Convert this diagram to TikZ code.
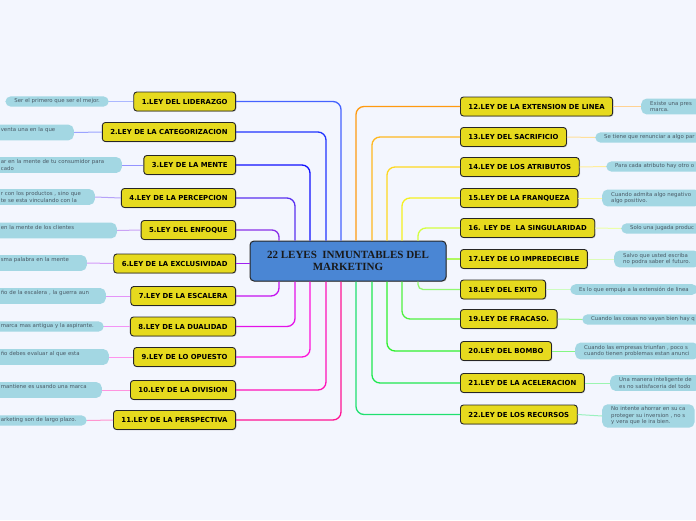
\documentclass[tikz,border=0pt]{standalone}
\usepackage{fontspec}
\setmainfont{DejaVu Sans}
\newfontfamily\titlefont{Liberation Serif}
\usepackage{tikz}
\usetikzlibrary{shadows}

\definecolor{fondo}{HTML}{F3F6FE}
\definecolor{leyfill}{HTML}{E6DA1E}
\definecolor{centrofill}{HTML}{4A86D4}
\definecolor{hojafill}{HTML}{A3D7E3}
\definecolor{hojatext}{HTML}{4A5A66}
% branch colours, left side
\definecolor{b1}{HTML}{4462FF}
\definecolor{b2}{HTML}{2034FF}
\definecolor{b3}{HTML}{1010FF}
\definecolor{b4}{HTML}{5A30F0}
\definecolor{b5}{HTML}{8A30E8}
\definecolor{b6}{HTML}{A020F0}
\definecolor{b7}{HTML}{C412F0}
\definecolor{b8}{HTML}{E412E8}
\definecolor{b9}{HTML}{FF12D8}
\definecolor{b10}{HTML}{FF12B8}
\definecolor{b11}{HTML}{FF1494}
% branch colours, right side
\definecolor{b12}{HTML}{FF9A10}
\definecolor{b13}{HTML}{FFB820}
\definecolor{b14}{HTML}{FFD820}
\definecolor{b15}{HTML}{F4F020}
\definecolor{b16}{HTML}{D4FF40}
\definecolor{b17}{HTML}{B0F860}
\definecolor{b18}{HTML}{90F870}
\definecolor{b19}{HTML}{50F040}
\definecolor{b20}{HTML}{30F030}
\definecolor{b21}{HTML}{20E850}
\definecolor{b22}{HTML}{20E070}

\begin{document}
\begin{tikzpicture}[x=1pt,y=-1pt]
% ---- styles ----
\tikzstyle{ley}=[draw=black!85,line width=0.9pt,fill=leyfill,rounded corners=3pt,
  font=\fontsize{6.9}{8}\selectfont\bfseries,minimum height=19pt,inner xsep=8pt,
  drop shadow={shadow xshift=0.8pt,shadow yshift=-0.8pt,opacity=0.35}]
\tikzstyle{centro}=[draw=black!85,line width=1pt,fill=centrofill,rounded corners=4pt,
  align=center,font=\titlefont\fontsize{11}{11.5}\selectfont\bfseries,text=black!90,
  minimum width=196pt,minimum height=40pt,
  drop shadow={shadow xshift=0.8pt,shadow yshift=-0.8pt,opacity=0.35}]
\tikzstyle{hoja}=[fill=hojafill,rounded corners=5.5pt,align=left,text=hojatext,
  font=\fontsize{5.4}{6.5}\selectfont,inner xsep=9pt,inner ysep=2.6pt]
\tikzstyle{rama}=[line width=1.3pt,rounded corners=8pt]
\tikzstyle{enlace}=[line width=1pt]

% ---- canvas ----
\useasboundingbox (0,0) rectangle (696,520);
\clip (0,0) rectangle (696,520);
\fill[fondo] (0,0) rectangle (696,520);

% ---- central topic ----
\node[centro] (c) at (348,261) {22 LEYES\ \ INMUNTABLES DEL\\MARKETING};

% ---- left laws ----
\node[ley,anchor=east] (n1) at (236,101.5) {1.LEY DEL LIDERAZGO};
\node[ley,anchor=east] (n2) at (236,132) {2.LEY DE LA CATEGORIZACION};
\node[ley,anchor=east] (n3) at (236,165) {3.LEY DE LA MENTE};
\node[ley,anchor=east] (n4) at (236,198) {4.LEY DE LA PERCEPCION};
\node[ley,anchor=east] (n5) at (236,230) {5.LEY DEL ENFOQUE};
\node[ley,anchor=east] (n6) at (236,263.5) {6.LEY DE LA EXCLUSIVIDAD};
\node[ley,anchor=east] (n7) at (236,296) {7.LEY DE LA ESCALERA};
\node[ley,anchor=east] (n8) at (236,326.5) {8.LEY DE LA DUALIDAD};
\node[ley,anchor=east] (n9) at (236,357) {9.LEY DE LO OPUESTO};
\node[ley,anchor=east] (n10) at (236,390) {10.LEY DE LA DIVISION};
\node[ley,anchor=east] (n11) at (236,420) {11.LEY DE LA PERSPECTIVA};

% ---- right laws ----
\node[ley,anchor=west] (n12) at (460,106.5) {12.LEY DE LA EXTENSION DE LINEA};
\node[ley,anchor=west] (n13) at (460,137) {13.LEY DEL SACRIFICIO};
\node[ley,anchor=west] (n14) at (460,167) {14.LEY DE LOS ATRIBUTOS};
\node[ley,anchor=west] (n15) at (460,198) {15.LEY DE LA FRANQUEZA};
\node[ley,anchor=west] (n16) at (460,228) {16. LEY DE\ \ LA SINGULARIDAD};
\node[ley,anchor=west] (n17) at (460,259) {17.LEY DE LO IMPREDECIBLE};
\node[ley,anchor=west] (n18) at (460,289.5) {18.LEY DEL EXITO};
\node[ley,anchor=west] (n19) at (460,319) {19.LEY DE FRACASO.};
\node[ley,anchor=west] (n20) at (460,351) {20.LEY DEL BOMBO};
\node[ley,anchor=west] (n21) at (460,383) {21.LEY DE LA ACELERACION};
\node[ley,anchor=west] (n22) at (460,414.5) {22.LEY DE LOS RECURSOS};

% ---- left notes (cut by the left edge) ----
\node[hoja,anchor=east] (l1) at (109,101.5) {Ser el primero que ser el mejor.};
\node[hoja,anchor=east,text width=64pt] (l2) at (74,132.5) {venta una en la que\\\mbox{}};
\node[hoja,anchor=east,text width=112pt] (l3) at (122,165) {ar en la mente de tu consumidor para\\cado};
\node[hoja,anchor=east,text width=85pt] (l4) at (95,197) {r con los productos , sino que\\te se esta vinculando con la};
\node[hoja,anchor=east,text width=107pt] (l5) at (117,230.5) {en la mente de los clientes\\\mbox{}};
\node[hoja,anchor=east,text width=77pt] (l6) at (87,263) {sma palabra en la mente\\\mbox{}};
\node[hoja,anchor=east,text width=96pt] (l7) at (106,296) {ño de la escalera , la guerra aun\\\mbox{}};
\node[hoja,anchor=east,text width=94pt] (l8) at (104,326.5) {marca mas antigua y la aspirante.};
\node[hoja,anchor=east,text width=99pt] (l9) at (109,357) {ño debes evaluar al que esta\\\mbox{}};
\node[hoja,anchor=east,text width=92pt] (l10) at (102,390) {mantiene es usando una marca\\\mbox{}};
\node[hoja,anchor=east,text width=77pt] (l11) at (87,420.5) {arketing son de largo plazo.};

% ---- right notes (cut by the right edge) ----
\node[hoja,anchor=west] (l12) at (641,106.5) {Existe una pres\\marca.};
\node[hoja,anchor=west] (l13) at (595,137.5) {Se tiene que renunciar a algo par};
\node[hoja,anchor=west] (l14) at (606,166.5) {Para cada atributo hay otro o};
\node[hoja,anchor=west] (l15) at (602,198) {Cuando admita algo negativo\\algo positivo.};
\node[hoja,anchor=west] (l16) at (621,228.5) {Solo una jugada produc};
\node[hoja,anchor=west] (l17) at (614,259) {Salvo que usted escriba\\no podra saber el futuro.};
\node[hoja,anchor=west] (l18) at (570,289.5) {Es lo que empuja a la extensión de linea};
\node[hoja,anchor=west] (l19) at (582,319.5) {Cuando las cosas no vayan bien hay q};
\node[hoja,anchor=west] (l20) at (575,351) {Cuando las empresas triunfan , poco s\\cuando tienen problemas estan anunci};
\node[hoja,anchor=west] (l21) at (610,383) {Una manera inteligente de\\es no satisfaceria del todo};
\node[hoja,anchor=west] (l22) at (602,416) {No intente ahorrar en su ca\\proteger su inversion , no s\\y vera que le ira bien.};

% ---- branches, left ----
\draw[rama,b1] ([xshift=-7pt]c.north) |- (n1.east);
\draw[rama,b2] ([xshift=-22pt]c.north) |- (n2.east);
\draw[rama,b3] ([xshift=-38pt]c.north) |- (n3.east);
\draw[rama,b4] ([xshift=-53pt]c.north) |- (n4.east);
\draw[rama,b5,rounded corners=7pt] ([xshift=-69pt]c.north) |- (n5.east);
\draw[rama,b6] (c.west |- n6.east) -- (n6.east);
\draw[rama,b7] ([xshift=-69pt]c.south) |- (n7.east);
\draw[rama,b8] ([xshift=-53pt]c.south) |- (n8.east);
\draw[rama,b9] ([xshift=-38pt]c.south) |- (n9.east);
\draw[rama,b10] ([xshift=-22pt]c.south) |- (n10.east);
\draw[rama,b11] ([xshift=-7pt]c.south) |- (n11.east);

% ---- branches, right ----
\draw[rama,b12] ([xshift=8pt]c.north) |- (n12.west);
\draw[rama,b13] ([xshift=24pt]c.north) |- (n13.west);
\draw[rama,b14] ([xshift=39pt]c.north) |- (n14.west);
\draw[rama,b15] ([xshift=54pt]c.north) |- (n15.west);
\draw[rama,b16] ([xshift=70pt]c.north) |- (n16.west);
\draw[rama,b17] (c.east |- n17.west) -- (n17.west);
\draw[rama,b18,rounded corners=5pt] ([xshift=70pt]c.south) |- (n18.west);
\draw[rama,b19] ([xshift=54pt]c.south) |- (n19.west);
\draw[rama,b20] ([xshift=39pt]c.south) |- (n20.west);
\draw[rama,b21] ([xshift=24pt]c.south) |- (n21.west);
\draw[rama,b22] ([xshift=8pt]c.south) |- (n22.west);

% ---- note links ----
\draw[enlace,b1!45] (l1.east) -- (n1.west);
\draw[enlace,b2!45] (l2.east) -- (n2.west);
\draw[enlace,b3!45] (l3.east) -- (n3.west);
\draw[enlace,b4!45] (l4.east) -- (n4.west);
\draw[enlace,b5!45] (l5.east) -- (n5.west);
\draw[enlace,b6!45] (l6.east) -- (n6.west);
\draw[enlace,b7!45] (l7.east) -- (n7.west);
\draw[enlace,b8!45] (l8.east) -- (n8.west);
\draw[enlace,b9!45] (l9.east) -- (n9.west);
\draw[enlace,b10!45] (l10.east) -- (n10.west);
\draw[enlace,b11!45] (l11.east) -- (n11.west);
\draw[enlace,b12!45] (n12.east) -- (l12.west);
\draw[enlace,b13!45] (n13.east) -- (l13.west);
\draw[enlace,b14!45] (n14.east) -- (l14.west);
\draw[enlace,b15!45] (n15.east) -- (l15.west);
\draw[enlace,b16!45] (n16.east) -- (l16.west);
\draw[enlace,b17!45] (n17.east) -- (l17.west);
\draw[enlace,b18!45] (n18.east) -- (l18.west);
\draw[enlace,b19!60] (n19.east) -- (l19.west);
\draw[enlace,b20!60] (n20.east) -- (l20.west);
\draw[enlace,b21!45] (n21.east) -- (l21.west);
\draw[enlace,b22!45] (n22.east) -- (l22.west);

\end{tikzpicture}
\end{document}
